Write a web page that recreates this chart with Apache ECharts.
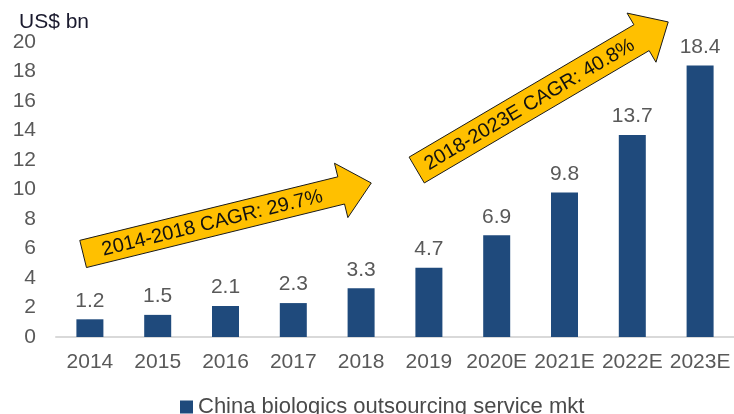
<!DOCTYPE html>
<html>
<head>
<meta charset="utf-8">
<script src="https://cdn.jsdelivr.net/npm/echarts@6/dist/echarts.min.js"></script>
<style>
  html, body { margin: 0; padding: 0; background: #fff; }
  #chart { width: 734px; height: 414px; }
</style>
</head>
<body>
<div id="chart"></div>
<script>
// data
const years = ['2014', '2015', '2016', '2017', '2018', '2019', '2020E', '2021E', '2022E', '2023E']
const marketSize = [1.2, 1.5, 2.1, 2.3, 3.3, 4.7, 6.9, 9.8, 13.7, 18.4]
const seriesName = 'China biologics outsourcing service mkt'
const cagrLabels = ['2014-2018 CAGR: 29.7%', '2018-2023E CAGR: 40.8%']

// arrow anchors in data space: [category index, value]
const cagrArrows = [
  { from: [-0.1, 5.63], to: [4.15, 10.44], text: cagrLabels[0], shaft: 28, head: 56, headLen: 31 },
  { from: [4.82, 11.32], to: [8.53, 21.36], text: cagrLabels[1], shaft: 30, head: 57, headLen: 31 },
]

const FONT = 'Liberation Sans, Arial, sans-serif'
const GREY = '#595959'
const BAR = '#1f4a7c'

const chart = echarts.init(document.getElementById('chart'))

chart.setOption({
  animation: false,
  title: {
    text: 'US$ bn',
    left: 14, top: 7,
    textStyle: { fontFamily: FONT, fontSize: 21, fontWeight: 'normal', color: '#1a1a2e' },
  },
  grid: { left: 56, right: 0, top: 42, bottom: 77 },
  legend: {
    bottom: -9,
    left: 175,
    itemWidth: 13, itemHeight: 13, itemGap: 4,
    icon: 'rect',
    textStyle: { fontFamily: FONT, fontSize: 22, color: '#4a4a4a' },
    data: [seriesName],
  },
  xAxis: {
    type: 'category',
    data: years,
    axisLine: { lineStyle: { color: '#d9d9d9', width: 2 } },
    axisTick: { show: false },
    axisLabel: { color: GREY, fontFamily: FONT, fontSize: 21, margin: 15, interval: 0 },
  },
  yAxis: {
    type: 'value',
    min: 0, max: 20, interval: 2,
    axisLine: { show: false },
    axisTick: { show: false },
    splitLine: { show: false },
    axisLabel: { color: GREY, fontFamily: FONT, fontSize: 21, margin: 20 },
  },
  series: [{
    name: seriesName,
    type: 'bar',
    data: marketSize,
    barWidth: 27,
    itemStyle: { color: BAR },
    label: {
      show: true, position: 'top', distance: 8,
      color: GREY, fontFamily: FONT, fontSize: 21,
    },
  }],
})

// pixel position for a fractional category index + value
function toPx(pt) {
  const a = chart.convertToPixel({ gridIndex: 0 }, [years[0], 0])
  const b = chart.convertToPixel({ gridIndex: 0 }, [years[1], 0])
  const y = chart.convertToPixel({ yAxisIndex: 0 }, pt[1])
  return [a[0] + pt[0] * (b[0] - a[0]), y]
}

function arrowShape(p0, p1, sw, hw, hl) {
  const dx = p1[0] - p0[0], dy = p1[1] - p0[1]
  const len = Math.hypot(dx, dy)
  const ux = dx / len, uy = dy / len
  const nx = -uy, ny = ux
  const bx = p1[0] - ux * hl, by = p1[1] - uy * hl
  const pts = [
    [p0[0] + nx * sw / 2, p0[1] + ny * sw / 2],
    [bx + nx * sw / 2, by + ny * sw / 2],
    [bx + nx * hw / 2, by + ny * hw / 2],
    p1,
    [bx - nx * hw / 2, by - ny * hw / 2],
    [bx - nx * sw / 2, by - ny * sw / 2],
    [p0[0] - nx * sw / 2, p0[1] - ny * sw / 2],
  ]
  return { pts, mid: [(p0[0] + bx) / 2, (p0[1] + by) / 2], angle: Math.atan2(-dy, dx) }
}

const graphics = []
cagrArrows.forEach(a => {
  const s = arrowShape(toPx(a.from), toPx(a.to), a.shaft, a.head, a.headLen)
  graphics.push({
    type: 'polygon',
    shape: { points: s.pts },
    style: { fill: '#ffc000', stroke: '#1a1a1a', lineWidth: 1 },
    z: 10,
  })
  graphics.push({
    type: 'text',
    x: s.mid[0], y: s.mid[1],
    rotation: s.angle,
    style: {
      text: a.text, x: 0, y: 1,
      align: 'center', verticalAlign: 'middle',
      font: '20px ' + FONT, fill: '#111',
    },
    z: 11,
  })
})

chart.setOption({ graphic: graphics })
</script>
</body>
</html>
